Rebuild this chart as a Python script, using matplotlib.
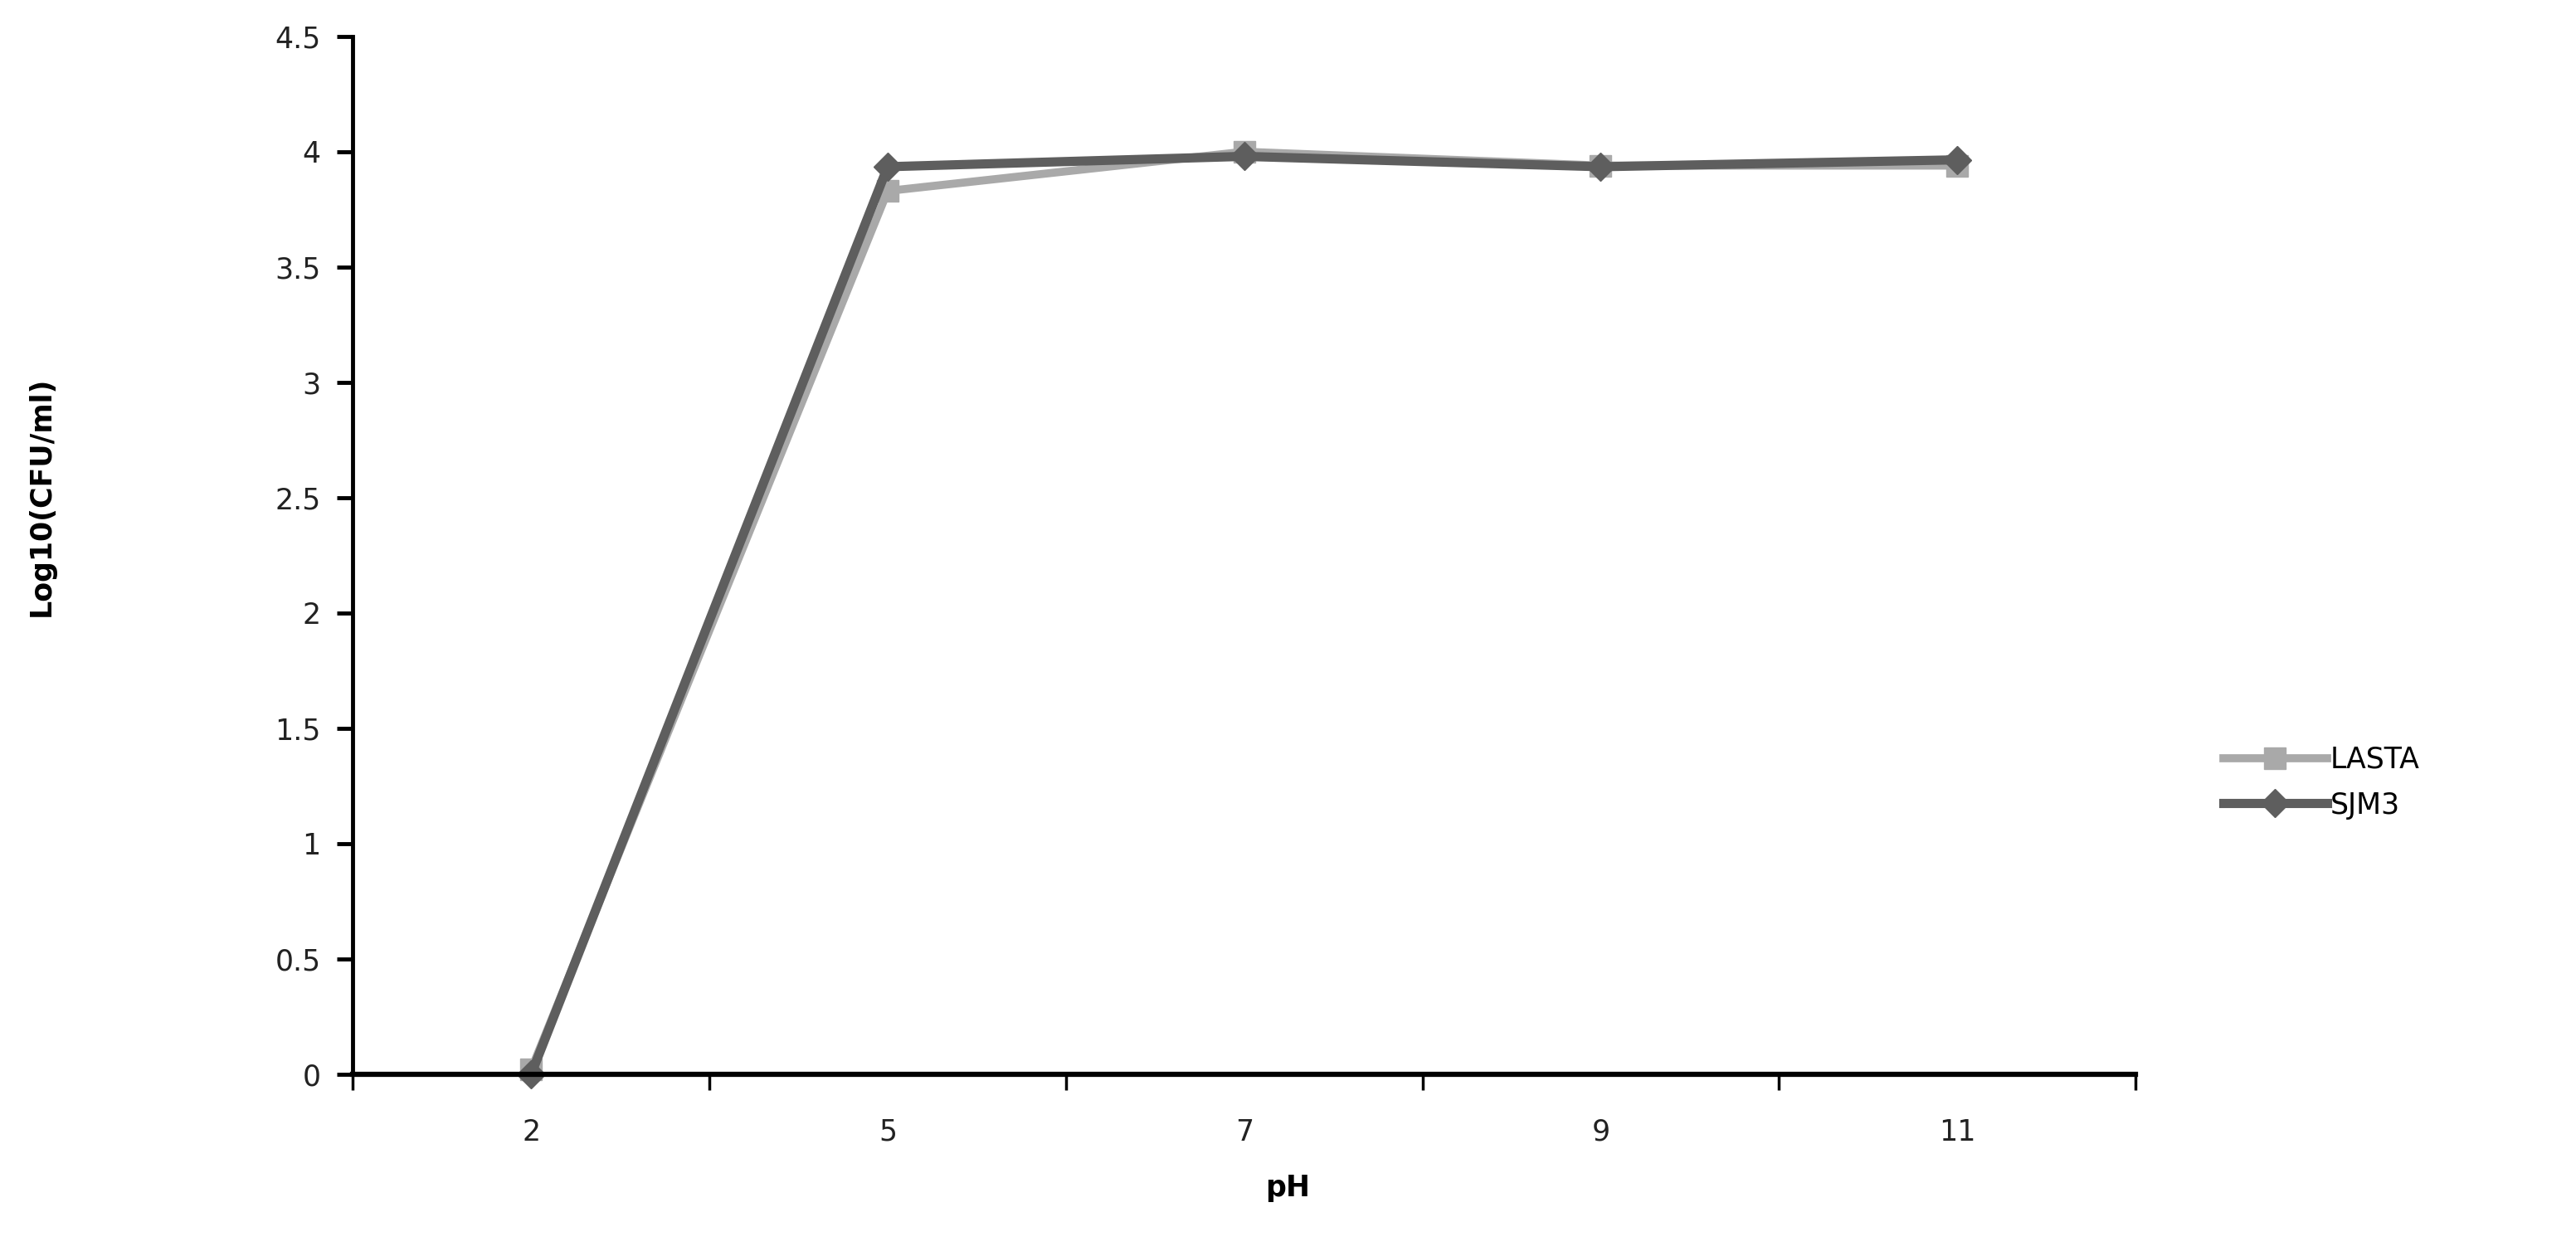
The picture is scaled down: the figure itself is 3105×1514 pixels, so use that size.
import matplotlib
matplotlib.use("Agg")
import matplotlib.pyplot as plt
import numpy as np

categories = ["2", "5", "7", "9", "11"]
lasta = [0.02, 3.83, 4.00, 3.94, 3.94]
sjm3 = [0.00, 3.935, 3.98, 3.935, 3.965]
yticks = [0, 0.5, 1, 1.5, 2, 2.5, 3, 3.5, 4, 4.5]
ytick_labels = ["0", "0.5", "1", "1.5", "2", "2.5", "3", "3.5", "4", "4.5"]

plt.rcParams['font.family'] = ['DejaVu Sans']

fig = plt.figure(figsize=(31.05, 15.14), dpi=100)
ax = fig.add_axes([0.137, 0.1447, 0.692, 0.8263])

x = np.arange(len(categories))
ax.plot(x, lasta, color="#a9a9a9", lw=7, marker="s", ms=19, mec="#a9a9a9", mfc="#a9a9a9", label="LASTA", zorder=3)
ax.plot(x, sjm3, color="#5e5e5e", lw=8, marker="D", ms=17, mec="#5e5e5e", mfc="#5e5e5e", label="SJM3", zorder=4)

ax.set_xlim(-0.5, len(categories) - 0.5)
ax.set_ylim(0, 4.5)
ax.set_yticks(yticks)
ax.set_yticklabels(ytick_labels, fontsize=25, color="#222222")
ax.set_xticks(x)
ax.set_xticklabels(categories, fontsize=25, color="#222222")
ax.set_xticks(np.arange(-0.5, len(categories), 1.0), minor=True)
ax.tick_params(axis="x", which="major", length=0, pad=38)
ax.tick_params(axis="x", which="minor", length=14, width=2.5, direction="out")
ax.tick_params(axis="y", which="major", length=14, width=3.5, direction="out", pad=14)

for s in ["top", "right"]:
    ax.spines[s].set_visible(False)
ax.spines["left"].set_linewidth(3.5)
ax.spines["bottom"].set_linewidth(4.5)
ax.spines["left"].set_zorder(5)
ax.spines["bottom"].set_zorder(5)
for line in ax.lines:
    line.set_clip_on(False)

fig.text(0.5, 0.054, "pH", ha="center", va="center", fontsize=25, fontweight="bold")
fig.text(0.016, 0.605, "Log10(CFU/ml)", ha="center", va="center", rotation=90, fontsize=25, fontweight="bold")

leg = fig.legend(loc="center left", bbox_to_anchor=(0.853, 0.377), frameon=False, fontsize=25,
                 handlelength=3.6, handletextpad=0.1, labelspacing=0.6)

fig.savefig("out.png", dpi=100, facecolor="white")
